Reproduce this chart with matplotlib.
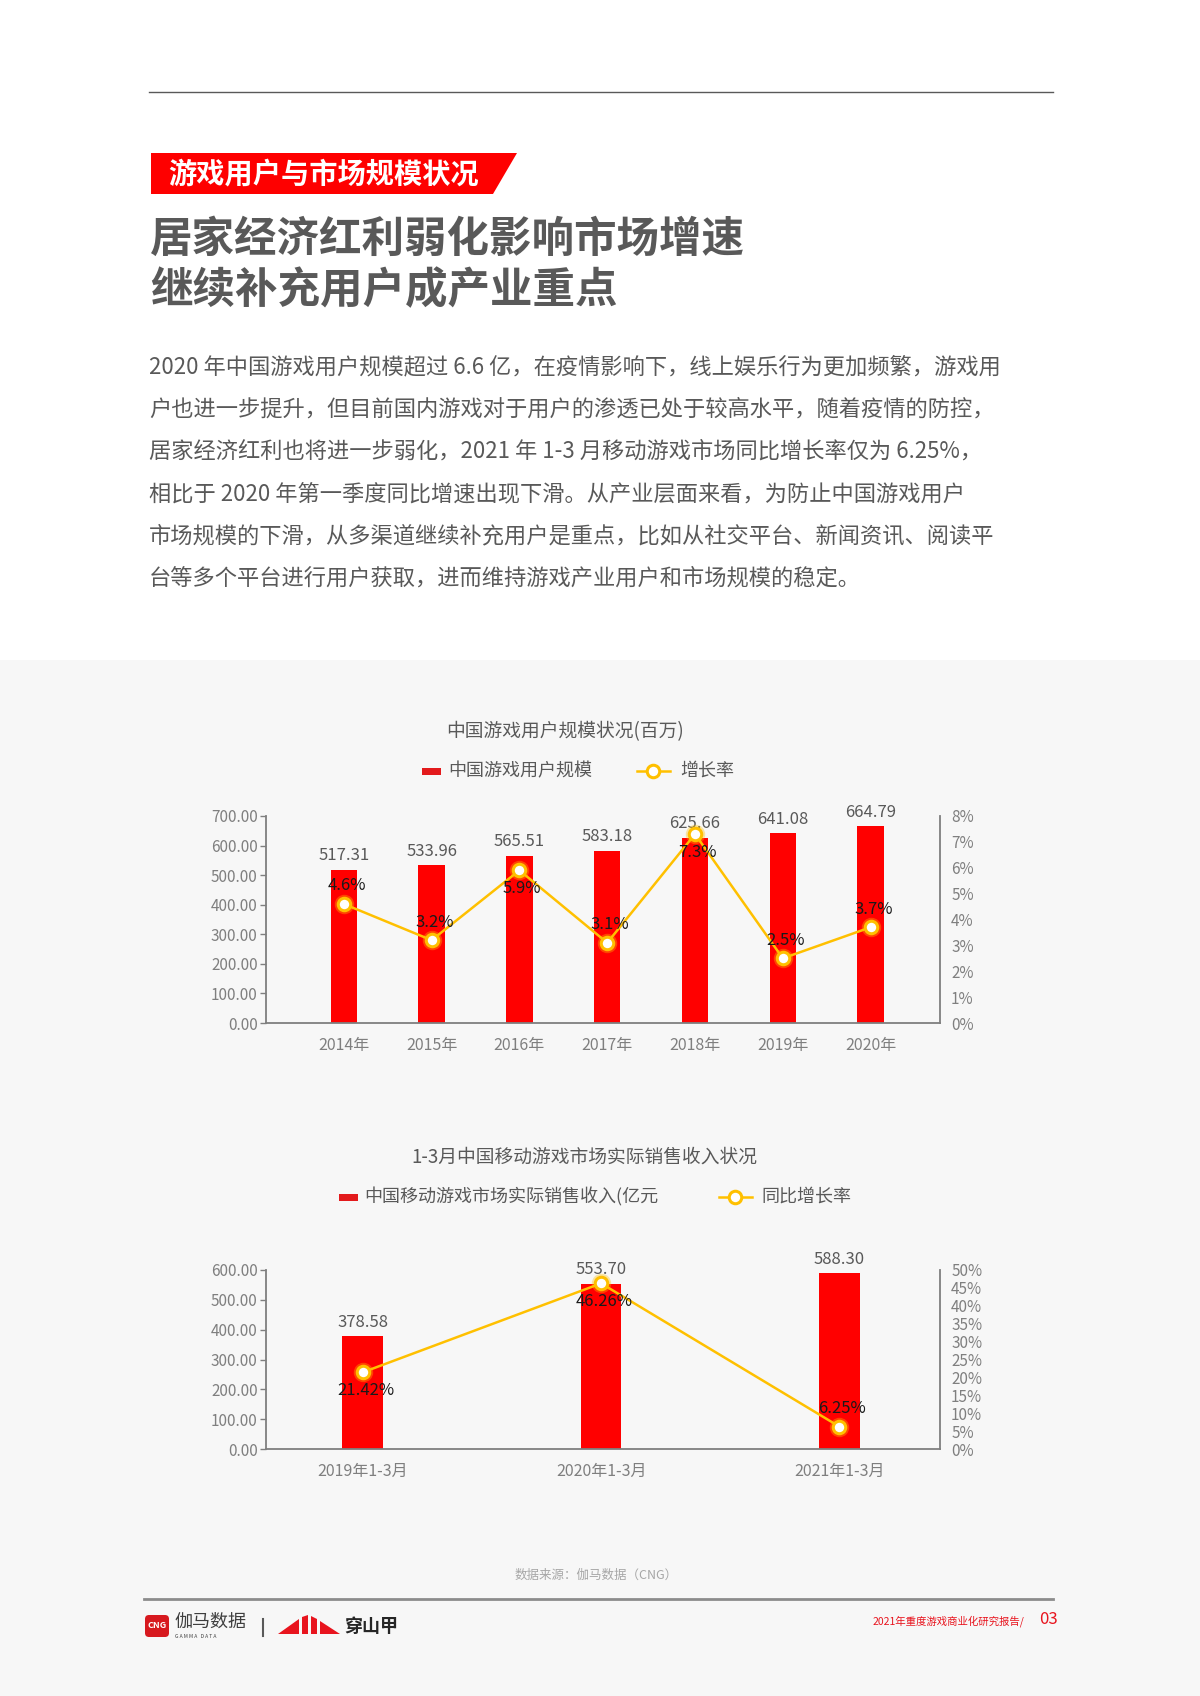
import matplotlib
matplotlib.use('Agg')
import matplotlib.pyplot as plt
from matplotlib.patches import Polygon, Rectangle, FancyBboxPatch
from matplotlib.ticker import FuncFormatter

plt.rcParams['font.family'] = ['Noto Sans CJK SC', 'DejaVu Sans']

# ---------------- data ----------------
years = ['2014年', '2015年', '2016年', '2017年', '2018年', '2019年', '2020年']
users = [517.31, 533.96, 565.51, 583.18, 625.66, 641.08, 664.79]
user_growth = [4.6, 3.2, 5.9, 3.1, 7.3, 2.5, 3.7]
user_growth_pos = ['up', 'up', 'down', 'up', 'down', 'up', 'up']

periods = ['2019年1-3月', '2020年1-3月', '2021年1-3月']
revenue = [378.58, 553.70, 588.30]
rev_growth = [21.42, 46.26, 6.25]
rev_growth_pos = ['down', 'down', 'up']

left_ticks1 = [0, 100, 200, 300, 400, 500, 600, 700]
right_ticks1 = [0, 1, 2, 3, 4, 5, 6, 7, 8]
left_ticks2 = [0, 100, 200, 300, 400, 500, 600]
right_ticks2 = [0, 5, 10, 15, 20, 25, 30, 35, 40, 45, 50]

tag_text = '游戏用户与市场规模状况'
headline = ['居家经济红利弱化影响市场增速', '继续补充用户成产业重点']
paragraph = [
    '2020 年中国游戏用户规模超过 6.6 亿，在疫情影响下，线上娱乐行为更加频繁，游戏用',
    '户也进一步提升，但目前国内游戏对于用户的渗透已处于较高水平，随着疫情的防控，',
    '居家经济红利也将进一步弱化，2021 年 1-3 月移动游戏市场同比增长率仅为 6.25%，',
    '相比于 2020 年第一季度同比增速出现下滑。从产业层面来看，为防止中国游戏用户',
    '市场规模的下滑，从多渠道继续补充用户是重点，比如从社交平台、新闻资讯、阅读平',
    '台等多个平台进行用户获取，进而维持游戏产业用户和市场规模的稳定。',
]
title1 = '中国游戏用户规模状况(百万)'
legend1 = ['中国游戏用户规模', '增长率']
title2 = '1-3月中国移动游戏市场实际销售收入状况'
legend2 = ['中国移动游戏市场实际销售收入(亿元', '同比增长率']
source = '数据来源：伽马数据（CNG）'
footer_report = '2021年重度游戏商业化研究报告/'
page_no = '03'

# ---------------- styling ----------------
W, H = 1200, 1696
RED = '#ff0000'
GOLD = '#ffc000'
GRAY_TXT = '#595959'
TICK_TXT = '#7f7f7f'
SPINE = '#7f7f7f'

fig = plt.figure(figsize=(W / 100, H / 100), dpi=100)
bg = fig.add_axes([0, 0, 1, 1])
bg.set_xlim(0, W)
bg.set_ylim(H, 0)
bg.axis('off')

# background panel
bg.add_patch(Rectangle((0, 660), W, H - 660, color='#f7f7f7', lw=0))
# top rule
bg.plot([149, 1053], [92, 92], color='#595959', lw=1)

# red tag
bg.add_patch(Polygon([(151, 153), (517, 153), (493, 194), (151, 194)],
                     closed=True, color='#fe0000', lw=0))
bg.text(168, 174, tag_text, color='white', fontsize=20.3, fontweight='bold',
        va='center', ha='left')

# headline
bg.text(150, 239, headline[0], color=GRAY_TXT, fontsize=30.6, fontweight='bold',
        va='center', ha='left')
bg.text(150, 290, headline[1], color=GRAY_TXT, fontsize=30.6, fontweight='bold',
        va='center', ha='left')

# paragraph
for i, line in enumerate(paragraph):
    bg.text(149, 367 + i * 42.2, line, color=GRAY_TXT, fontsize=16,
            va='center', ha='left')


def px_axes(l, t, r, b):
    return fig.add_axes([l / W, 1 - b / H, (r - l) / W, (b - t) / H])


def style_axes(ax, ax2):
    ax.set_facecolor('none')
    ax2.set_facecolor('none')
    for a in (ax, ax2):
        a.spines['top'].set_visible(False)
    ax.spines['right'].set_visible(False)
    ax2.spines['left'].set_visible(False)
    ax2.spines['bottom'].set_visible(False)
    for s in ('left', 'bottom'):
        ax.spines[s].set_color(SPINE)
        ax.spines[s].set_linewidth(1.3)
    ax2.spines['right'].set_color(SPINE)
    ax2.spines['right'].set_linewidth(1.3)
    ax.tick_params(axis='y', length=4, width=1, color=SPINE, pad=2,
                   labelcolor=TICK_TXT, labelsize=11)
    ax2.tick_params(axis='y', length=0, pad=8,
                    labelcolor=TICK_TXT, labelsize=11)
    ax.tick_params(axis='x', length=0, pad=10, labelcolor=TICK_TXT,
                   labelsize=11.5)
    ax.yaxis.set_major_formatter(FuncFormatter(lambda v, p: f'{v:.2f}'))
    ax2.yaxis.set_major_formatter(FuncFormatter(lambda v, p: f'{v:.0f}%'))


def draw_line(ax2, xs, ys):
    ax2.plot(xs, ys, color=GOLD, lw=1.8, zorder=3)
    ax2.plot(xs, ys, ls='none', marker='o', ms=14, mfc=GOLD, mec='none',
             alpha=0.35, zorder=4)
    ax2.plot(xs, ys, ls='none', marker='o', ms=9, mfc='white', mec=GOLD,
             mew=2.2, zorder=5)


# ---------------- chart 1 ----------------
ax = px_axes(266, 816, 940, 1023)
ax2 = ax.twinx()
x1 = list(range(len(years)))
ax.bar(x1, users, width=0.30, color=RED, zorder=2)
ax.set_xlim(-0.886, 6.79)
ax.set_ylim(0, 700)
ax.set_yticks(left_ticks1)
ax.set_xticks(x1)
ax.set_xticklabels(years)
ax2.set_ylim(0, 8)
ax2.set_yticks(right_ticks1)
style_axes(ax, ax2)
for xi, v in zip(x1, users):
    ax.annotate(f'{v:.2f}', (xi, v), xytext=(0, 4), textcoords='offset points',
                ha='center', va='bottom', color=GRAY_TXT, fontsize=12)
draw_line(ax2, x1, user_growth)
for xi, g, pos in zip(x1, user_growth, user_growth_pos):
    dy = 13 if pos == 'up' else -13
    ax2.annotate(f'{g:.1f}%', (xi, g), xytext=(2, dy), textcoords='offset points',
                 ha='center', va='center', color='#1a1a1a', fontsize=12, zorder=6)

bg.text(565, 732, title1, color=GRAY_TXT, fontsize=13.5, ha='center', va='center')
bg.add_patch(Rectangle((422, 767.5), 19, 7, color='#e31a1c', lw=0))
bg.text(448, 771, legend1[0], color=GRAY_TXT, fontsize=13, ha='left', va='center')
bg.plot([637, 670], [771, 771], color=GOLD, lw=1.8)
bg.plot([653], [771], marker='o', ms=9, mfc='white', mec=GOLD, mew=2.2)
bg.text(680, 771, legend1[1], color=GRAY_TXT, fontsize=13, ha='left', va='center')

# ---------------- chart 2 ----------------
bx = px_axes(266, 1270, 940, 1449)
bx2 = bx.twinx()
x2 = list(range(len(periods)))
bx.bar(x2, revenue, width=0.171, color=RED, zorder=2)
bx.set_xlim(-0.406, 2.422)
bx.set_ylim(0, 600)
bx.set_yticks(left_ticks2)
bx.set_xticks(x2)
bx.set_xticklabels(periods)
bx2.set_ylim(0, 50)
bx2.set_yticks(right_ticks2)
style_axes(bx, bx2)
for xi, v in zip(x2, revenue):
    bx.annotate(f'{v:.2f}', (xi, v), xytext=(0, 4), textcoords='offset points',
                ha='center', va='bottom', color=GRAY_TXT, fontsize=12)
draw_line(bx2, x2, rev_growth)
for xi, g, pos in zip(x2, rev_growth, rev_growth_pos):
    dy = 13 if pos == 'up' else -13
    bx2.annotate(f'{g:.2f}%', (xi, g), xytext=(2, dy), textcoords='offset points',
                 ha='center', va='center', color='#1a1a1a', fontsize=12, zorder=6)

bg.text(584, 1157, title2, color=GRAY_TXT, fontsize=13.5, ha='center', va='center')
bg.add_patch(Rectangle((339, 1193.5), 19, 7, color='#e31a1c', lw=0))
bg.text(364, 1197, legend2[0], color=GRAY_TXT, fontsize=13, ha='left', va='center')
bg.plot([719, 752], [1197, 1197], color=GOLD, lw=1.8)
bg.plot([735], [1197], marker='o', ms=9, mfc='white', mec=GOLD, mew=2.2)
bg.text(761, 1197, legend2[1], color=GRAY_TXT, fontsize=13, ha='left', va='center')

# ---------------- footer ----------------
bg.text(596, 1575, source, color='#a6a6a6', fontsize=9, ha='center', va='center')
bg.plot([144, 1053], [1599, 1599], color='#8c8c8c', lw=2)

# CNG logo
bg.add_patch(FancyBboxPatch((145, 1615), 24, 22, boxstyle='round,pad=0,rounding_size=4',
                            color='#d7191f', lw=0))
bg.text(157, 1626, 'CNG', color='white', fontsize=6.5, fontweight='bold',
        ha='center', va='center')
bg.text(174, 1622, '伽马数据', color='#3f3f3f', fontsize=13, ha='left', va='center')
bg.text(175, 1636, 'G A M M A   D A T A', color='#3f3f3f', fontsize=3.6,
        ha='left', va='center')
bg.plot([263, 263], [1619, 1636], color='#595959', lw=1.5)
# mountain logo
mred = '#e8141e'
bg.add_patch(Polygon([(278, 1634), (299, 1619), (299, 1634)], color=mred, lw=0))
bg.add_patch(Polygon([(302, 1617), (308, 1615), (308, 1634), (302, 1634)], color=mred, lw=0))
bg.add_patch(Polygon([(311, 1616), (317, 1619), (317, 1634), (311, 1634)], color=mred, lw=0))
bg.add_patch(Polygon([(320, 1621), (340, 1634), (320, 1634)], color=mred, lw=0))
bg.text(344, 1626, '穿山甲', color='#262626', fontsize=13, fontweight='bold',
        ha='left', va='center')

bg.text(1024, 1621, footer_report, color='#e8141e', fontsize=7.5, ha='right', va='center')
bg.text(1039, 1619, page_no, color='#e8141e', fontsize=12, ha='left', va='center')

fig.savefig('out.png', dpi=100)
